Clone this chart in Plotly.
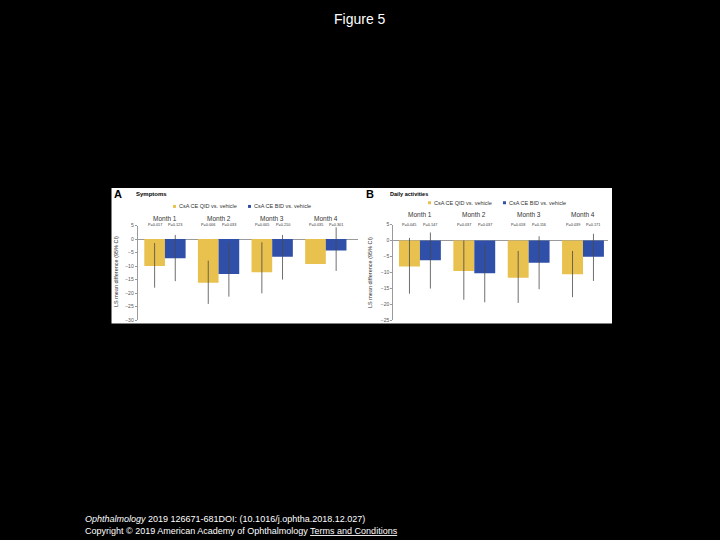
import plotly.graph_objects as go

months = ["Month 1", "Month 2", "Month 3", "Month 4"]
series_names = ["CsA CE QID vs. vehicle", "CsA CE BID vs. vehicle"]

# Panel A: Symptoms
a_qid = [-10.0, -16.2, -12.3, -9.2]
a_qid_lo = [-18.0, -24.0, -20.1, -9.2]
a_qid_hi = [-1.5, -8.0, -1.2, -9.2]
a_bid = [-7.1, -12.9, -6.6, -4.2]
a_bid_lo = [-15.6, -21.3, -15.0, -11.8]
a_bid_hi = [1.5, -1.2, 1.5, 4.3]
a_p_qid = ["P=0.017", "P=0.006", "P=0.005", "P=0.035"]
a_p_bid = ["P=0.123", "P=0.033", "P=0.210", "P=0.301"]

# Panel B: Daily activities
b_qid = [-8.2, -9.6, -11.7, -10.6]
b_qid_lo = [-16.7, -18.6, -19.6, -17.8]
b_qid_hi = [0.8, 0.0, -3.3, -3.3]
b_bid = [-6.2, -10.3, -7.0, -5.1]
b_bid_lo = [-15.1, -19.4, -15.3, -12.7]
b_bid_hi = [2.5, -1.5, 1.3, 2.1]
b_p_qid = ["P=0.045", "P=0.037", "P=0.018", "P=0.039"]
b_p_bid = ["P=0.147", "P=0.037", "P=0.116", "P=0.171"]

YEL = "#E8C14E"
BLU = "#2F4FA8"
ERR = "#4a4a4a"
W, H = 720, 540


def px(x):
    return x / W


def py(y):
    return 1 - y / H


fig = go.Figure()


def add_panel(xa, ya, qid, qlo, qhi, bid, blo, bhi):
    for vals, lo, hi, col, name in [(qid, qlo, qhi, YEL, series_names[0]),
                                    (bid, blo, bhi, BLU, series_names[1])]:
        fig.add_trace(go.Bar(
            x=months, y=vals, name=name, marker_color=col, marker_line_width=0,
            xaxis=xa, yaxis=ya, showlegend=False,
            error_y=dict(type="data", symmetric=False,
                         array=[h - v for h, v in zip(hi, vals)],
                         arrayminus=[v - l for v, l in zip(vals, lo)],
                         color=ERR, thickness=0.8, width=0)))


add_panel("x", "y", a_qid, a_qid_lo, a_qid_hi, a_bid, a_bid_lo, a_bid_hi)
add_panel("x2", "y2", b_qid, b_qid_lo, b_qid_hi, b_bid, b_bid_lo, b_bid_hi)

tickfont = dict(family="Arial", size=5, color="#555")
yax_common = dict(showgrid=False, zeroline=True, zerolinecolor="#9a9a9a", zerolinewidth=1,
                  showline=True, linecolor="#9a9a9a", linewidth=1, ticks="outside",
                  ticklen=2, tickcolor="#9a9a9a", tickfont=tickfont, dtick=5)
xax_common = dict(showgrid=False, showline=False, showticklabels=False, ticks="",
                  type="category")

fig.update_layout(
    width=W, height=H, paper_bgcolor="black", plot_bgcolor="white",
    margin=dict(l=0, r=0, t=0, b=0), barmode="group", bargap=0.23, bargroupgap=0,
    showlegend=False,
    xaxis=dict(domain=[px(137.7), px(358)], range=[-0.508, 3.6], anchor="y", **xax_common),
    yaxis=dict(domain=[py(320.7), py(225)], range=[-30, 5], anchor="x", **yax_common),
    xaxis2=dict(domain=[px(393.3), px(608)], range=[-0.49, 3.46], anchor="y2", **xax_common),
    yaxis2=dict(domain=[py(320.7), py(224)], range=[-25, 5], anchor="x2", **yax_common),
)

shapes = [dict(type="rect", xref="paper", yref="paper", x0=px(111.5), x1=px(612),
               y0=py(324), y1=py(187), fillcolor="white", line_width=0, layer="below")]

ann = []


def note(text, x, y, size, color="#333", xanchor="center", xref="paper", **kw):
    ann.append(dict(text=text, x=x, y=y, xref=xref, yref="paper", showarrow=False,
                    xanchor=xanchor, yanchor="middle",
                    font=dict(family="Arial", size=size, color=color), **kw))


note("Figure 5", 0.5, py(16), 14, "white")
note("<i>Ophthalmology</i> 2019 126671-681DOI: (10.1016/j.ophtha.2018.12.027)",
     px(83), py(522), 9, "white", xanchor="left")
note("Copyright © 2019 American Academy of Ophthalmology <span style='text-decoration:underline'>Terms and Conditions</span>",
     px(83), py(534), 9, "white", xanchor="left")

# panel titles
for letter, lx, title, tx, tsize in [("A", 112, "Symptoms", 134, 6), ("B", 364, "Daily activities", 388, 5.5)]:
    note("<b>%s</b>" % letter, px(lx), py(193), 11, "black", xanchor="left")
    note("<b>%s</b>" % title, px(tx), py(193), tsize, "black", xanchor="left")

# legends
for lx, ly in [(173, 205.7), (428, 202)]:
    for i, (col, name) in enumerate([(YEL, series_names[0]), (BLU, series_names[1])]):
        x0 = lx + i * 75
        shapes.append(dict(type="rect", xref="paper", yref="paper", x0=px(x0), x1=px(x0 + 3),
                           y0=py(ly + 1.5), y1=py(ly - 1.5), fillcolor=col, line_width=0))
        note(name, px(x0 + 4), py(ly), 5.5, "#333", xanchor="left")

# month labels & p-values
for xr, my, pyy, pq, pb in [("x", 217.7, 224.3, a_p_qid, a_p_bid), ("x2", 214.3, 224, b_p_qid, b_p_bid)]:
    for i, m in enumerate(months):
        note(m, i, py(my), 6.5, "#333", xref=xr)
        note(pq[i], i - 0.1925, py(pyy), 3.8, "#333", xref=xr)
        note(pb[i], i + 0.1925, py(pyy), 3.8, "#333", xref=xr)

# y-axis titles
for xx in [116, 370]:
    note("LS mean difference (95% CI)", px(xx), py(272), 5.5, "#333", textangle=-90)

fig.update_layout(shapes=shapes, annotations=ann)
fig.write_html("out.html", config={"displayModeBar": False},
               post_script="document.body.style.margin='0';document.body.style.background='black';"
                           "document.documentElement.style.overflow='hidden';")
